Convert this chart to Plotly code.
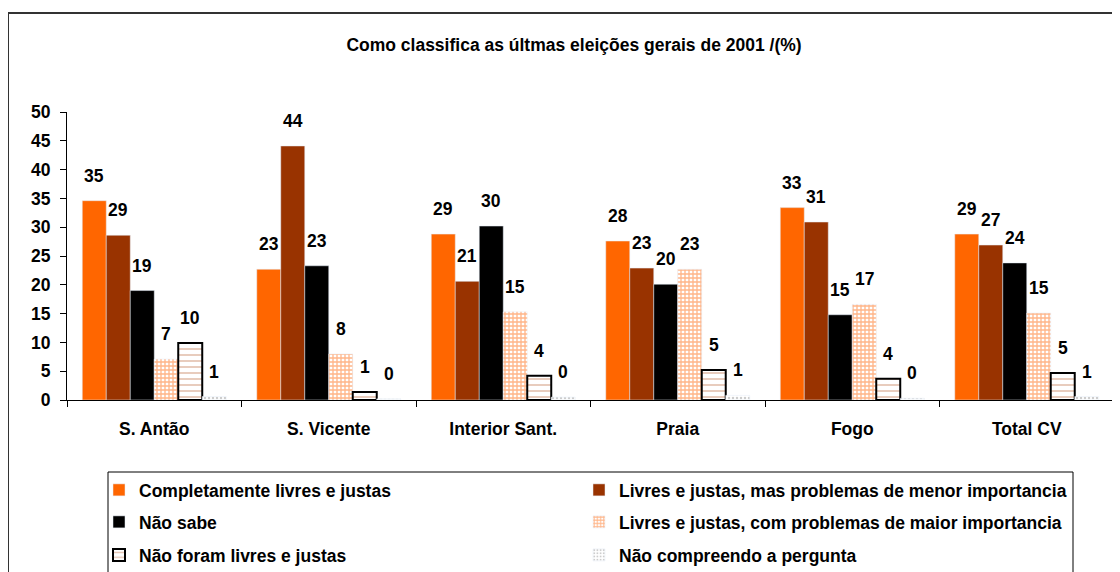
import plotly.graph_objects as go

categories = ["S. Antão", "S. Vicente", "Interior Sant.", "Praia", "Fogo", "Total CV"]

series_names = [
    "Completamente livres e justas",
    "Livres e justas, mas problemas de menor importancia",
    "Não sabe",
    "Livres e justas, com problemas de maior importancia",
    "Não foram livres e justas",
    "Não compreendo a pergunta",
]

completamente = [34.6, 22.7, 28.8, 27.6, 33.4, 28.8]
menor = [28.6, 44.1, 20.6, 22.9, 30.9, 26.9]
nao_sabe = [19.0, 23.3, 30.2, 20.1, 14.8, 23.8]
maior = [7.1, 8.0, 15.3, 22.7, 16.6, 15.1]
nao_foram = [9.9, 1.4, 4.2, 5.2, 3.7, 4.7]
nao_compreendo = [0.6, 0.2, 0.5, 0.8, 0.3, 0.6]

title_text = "Como classifica as últmas eleições gerais de 2001 /(%)"
y_ticks = [0, 5, 10, 15, 20, 25, 30, 35, 40, 45, 50]

FONT = "Liberation Sans, Arial, sans-serif"
FS = 17.5

values = [completamente, menor, nao_sabe, maior, nao_foram, nao_compreendo]
markers = [
    dict(color="#FF6600"),
    dict(color="#993300"),
    dict(color="#000000"),
    dict(color="white",
         pattern=dict(shape="+", fgcolor="#FF6A10", bgcolor="white", size=4, solidity=0.55)),
    dict(color="white", line=dict(color="black", width=2),
         pattern=dict(shape="-", fgcolor="#CC8E6C", bgcolor="white", size=6, solidity=0.3)),
    dict(color="white",
         pattern=dict(shape=".", fgcolor="#9A9A9A", bgcolor="white", size=4, solidity=0.3)),
]
legend_ids = ["legend", "legend2", "legend3", "legend4", "legend5", "legend6"]

# page has an 8px body margin: figure coords = reference coords - 8
OFF = 8
W, H = 1120 - OFF, 572 - OFF
L, R, T, B = 67 - OFF, W - (1114 - OFF), 112 - OFF, H - (400 - OFF)
pw, ph = W - L - R, H - T - B

BARGAP = 0.175
n_series = len(series_names)
cat_w = pw / len(categories)
bar_w = cat_w * (1 - BARGAP) / n_series


def px(x):
    return (x - OFF - L) / pw


def py(y):
    return (H - B - (y - OFF)) / ph


fig = go.Figure()
for i, (name, vals, mk, lg) in enumerate(zip(series_names, values, markers, legend_ids)):
    fig.add_trace(go.Bar(
        x=categories, y=vals, name=name, marker=mk, legend=lg,
        hoverinfo="skip",
    ))
    shift = (i - (n_series - 1) / 2) * bar_w
    for c, v in zip(categories, vals):
        fig.add_annotation(x=c, y=v, xref="x", yref="y", text=f"<b>{round(v):d}</b>",
                           showarrow=False, xshift=shift, yshift=25,
                           xanchor="center", yanchor="middle",
                           font=dict(family=FONT, size=FS, color="black"))

legend_common = dict(orientation="h", xanchor="left", yanchor="middle",
                     borderwidth=0, bgcolor="rgba(0,0,0,0)",
                     font=dict(family=FONT, size=FS, weight="bold", color="black"))
col_x = [px(99), px(579)]
row_y = [py(490), py(522), py(555)]
legend_layout = {}
for i, lg in enumerate(legend_ids):
    legend_layout[lg] = dict(x=col_x[i % 2], y=row_y[i // 2], **legend_common)

fig.update_layout(
    width=W, height=H,
    margin=dict(l=L, r=R, t=T, b=B, autoexpand=False),
    paper_bgcolor="white", plot_bgcolor="white",
    barmode="group", bargap=BARGAP, bargroupgap=0,
    font=dict(family=FONT, size=FS, color="black"),
    title=dict(text=f"<b>{title_text}</b>", x=px(574), xanchor="center", xref="paper",
               y=1 - (45 - OFF) / H, yanchor="middle", font=dict(size=FS, family=FONT)),
    xaxis=dict(showline=True, linecolor="black", linewidth=1, ticks="outside",
               tickson="boundaries", ticklen=6, tickcolor="black", ticklabelstandoff=13,
               tickfont=dict(size=FS, weight="bold"), showgrid=False),
    yaxis=dict(range=[0, 50], tickvals=y_ticks, showline=True, linecolor="black",
               linewidth=1, ticks="outside", ticklen=6, tickcolor="black",
               ticklabelstandoff=6,
               tickfont=dict(size=FS, weight="bold"), showgrid=False, zeroline=False),
    showlegend=True,
    **legend_layout,
)

# outer chart frame
fig.add_shape(type="rect", xref="paper", yref="paper",
              x0=px(8), x1=px(1140), y0=py(620), y1=py(13),
              line=dict(color="#333333", width=2), fillcolor="rgba(0,0,0,0)", layer="below")
# legend frame
fig.add_shape(type="rect", xref="paper", yref="paper",
              x0=px(108), x1=px(1073), y0=py(620), y1=py(472),
              line=dict(color="black", width=1), fillcolor="rgba(0,0,0,0)", layer="below")

fig.write_html("out.html")
